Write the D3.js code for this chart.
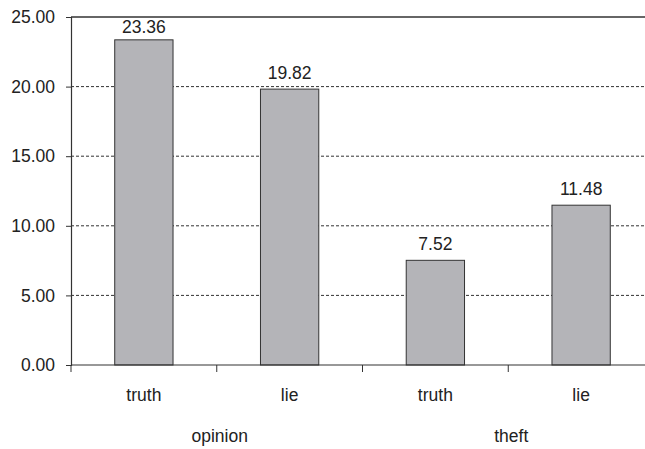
<!DOCTYPE html>
<meta charset="utf-8">
<style>
    body { margin: 0; background: #fff; }
    text { font-family: "Liberation Sans", Arial, sans-serif; fill: #222; font-size: 17.5px; }
</style>
<body>
<script src="https://cdn.jsdelivr.net/npm/d3@7/dist/d3.min.js"></script>
<script>

    var groups = ["opinion", "theft"];
    var conditions = ["truth", "lie"];
    var values = [23.36, 19.82, 7.52, 11.48];
    var yTicks = [0, 5, 10, 15, 20, 25];

    var width = 645, height = 449;
    var margin = {left: 71, top: 17, right: -9, bottom: 84};

    var svg = d3.select("body").append("svg")
        .attr("width", width)
        .attr("height", height);

    // one slot per bar: group + condition
    var slots = [];
    groups.forEach(function (g) {
        conditions.forEach(function (c) {
            slots.push({group: g, cond: c, key: g + "-" + c});
        });
    });
    slots.forEach(function (s, i) { s.value = values[i]; });

    var x = d3.scaleBand()
        .domain(slots.map(function (d) { return d.key; }))
        .range([margin.left, width - margin.right])
        .paddingInner(0.6)
        .paddingOuter(0.3);

    var y = d3.scaleLinear()
        .domain([0, 25])
        .range([height - margin.bottom, margin.top]);

    var step = x.step();
    var x0 = margin.left;

    // gridlines
    svg.selectAll("line.grid")
        .data(yTicks.filter(function (d) { return d > 0 && d < 25; }))
        .enter().append("line")
        .attr("class", "grid")
        .attr("x1", x0).attr("x2", width)
        .attr("y1", function (d) { return y(d); })
        .attr("y2", function (d) { return y(d); })
        .attr("stroke", "#333")
        .attr("stroke-width", 1)
        .attr("stroke-dasharray", "3,2");

    // top border
    svg.append("line")
        .attr("x1", x0).attr("x2", width)
        .attr("y1", y(25)).attr("y2", y(25))
        .attr("stroke", "#333").attr("stroke-width", 1.5);

    // bars
    svg.selectAll("rect.bar")
        .data(slots)
        .enter().append("rect")
        .attr("class", "bar")
        .attr("x", function (d) { return x(d.key); })
        .attr("width", x.bandwidth())
        .attr("y", function (d) { return y(d.value); })
        .attr("height", function (d) { return y(0) - y(d.value); })
        .attr("fill", "#b4b4b8")
        .attr("stroke", "#333")
        .attr("stroke-width", 1);

    // value labels (kept inside the plot near the top)
    svg.selectAll("text.val")
        .data(slots)
        .enter().append("text")
        .attr("class", "val")
        .attr("x", function (d) { return x(d.key) + x.bandwidth() / 2; })
        .attr("y", function (d) { return Math.max(y(d.value) - 10, margin.top + 16); })
        .attr("text-anchor", "middle")
        .text(function (d) { return d.value.toFixed(2); });

    // y axis
    var yAxis = svg.append("g")
        .attr("transform", "translate(" + x0 + ",0)")
        .call(d3.axisLeft(y).tickValues(yTicks).tickSize(5).tickPadding(11)
            .tickFormat(function (d) { return d.toFixed(2); }));
    yAxis.select(".domain").attr("stroke", "#333").attr("stroke-width", 1.2);
    yAxis.selectAll(".tick line").attr("stroke", "#333");
    yAxis.selectAll("text").attr("font-size", null).attr("font-family", null).attr("fill", "#222");

    // x axis baseline and ticks between slots
    svg.append("line")
        .attr("x1", x0).attr("x2", width)
        .attr("y1", y(0)).attr("y2", y(0))
        .attr("stroke", "#333").attr("stroke-width", 1.2);

    var tickPos = d3.range(slots.length + 1).map(function (i) { return x0 + i * step; });
    svg.selectAll("line.xtick")
        .data(tickPos)
        .enter().append("line")
        .attr("class", "xtick")
        .attr("x1", function (d) { return d; }).attr("x2", function (d) { return d; })
        .attr("y1", y(0)).attr("y2", y(0) + 7)
        .attr("stroke", "#333");

    // condition labels
    svg.selectAll("text.cond")
        .data(slots)
        .enter().append("text")
        .attr("class", "cond")
        .attr("x", function (d) { return x(d.key) + x.bandwidth() / 2; })
        .attr("y", y(0) + 36)
        .attr("text-anchor", "middle")
        .text(function (d) { return d.cond; });

    // group labels
    svg.selectAll("text.grp")
        .data(groups)
        .enter().append("text")
        .attr("class", "grp")
        .attr("x", function (d, i) { return x0 + step * (2 * i + 1) + 3; })
        .attr("y", y(0) + 77)
        .attr("text-anchor", "middle")
        .text(function (d) { return d; });

</script>
</body>
</html>
